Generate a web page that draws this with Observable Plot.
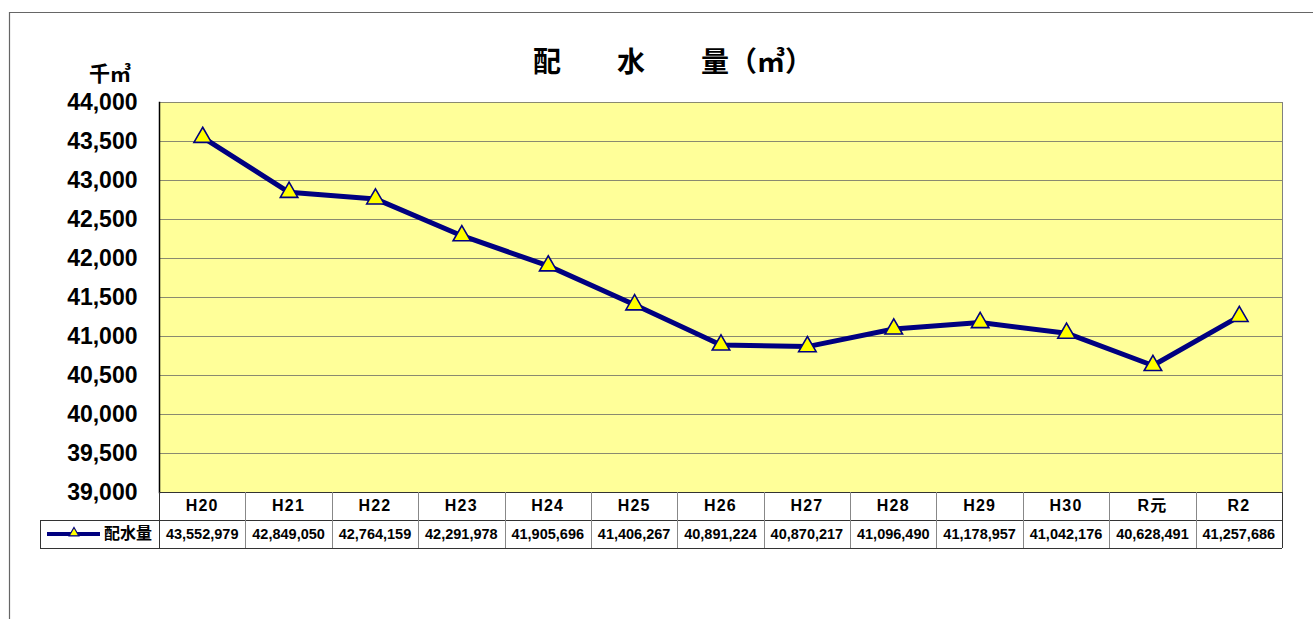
<!DOCTYPE html>
<html>
<head>
<meta charset="utf-8">
<script src="https://cdn.jsdelivr.net/npm/d3@7"></script>
<script src="https://cdn.jsdelivr.net/npm/@observablehq/plot@0.6"></script>
<style>
  html, body { margin: 0; padding: 0; background: #fff; }
  #chart { position: relative; width: 1313px; height: 619px; }
  svg { display: block; }
</style>
</head>
<body>
<div id="chart"></div>
<script>
// ---- data ----
const categories = ["H20", "H21", "H22", "H23", "H24", "H25", "H26", "H27", "H28", "H29", "H30", "R元", "R2"];
const values = [43552979, 42849050, 42764159, 42291978, 41905696, 41406267, 40891224, 40870217, 41096490, 41178957, 41042176, 40628491, 41257686];
const yTicks = [39000, 39500, 40000, 40500, 41000, 41500, 42000, 42500, 43000, 43500, 44000];
const seriesName = "配水量";
const titleText = "配　　水　　量（㎥）";
const unitText = "千㎥";

const data = categories.map((c, i) => ({cat: c, val: values[i] / 1000, raw: values[i]}));

const FONT = "'Liberation Sans', Arial, 'Noto Sans CJK JP', sans-serif";
const NAVY = "#000080";

const chart = Plot.plot({
  width: 1313,
  height: 619,
  marginLeft: 159,
  marginRight: 31,
  marginTop: 102,
  marginBottom: 127,
  style: {fontFamily: FONT, background: "white", overflow: "visible", color: "black"},
  x: {type: "point", domain: categories, padding: 0.5, round: false, axis: null},
  y: {domain: [39000, 44000], axis: null},
  marks: [
    Plot.frame({fill: "#FFFF99", stroke: "#808080"}),
    Plot.gridY(yTicks, {stroke: "#8a8a70", strokeOpacity: 1, strokeWidth: 1}),
    Plot.frame({anchor: "left", stroke: "black", strokeWidth: 1.5}),
    Plot.axisY(yTicks, {tickSize: 0, tickPadding: 22, fontSize: 23, fontWeight: "bold", label: null, tickFormat: d3.format(",")}),
    Plot.line(data, {x: "cat", y: "val", stroke: NAVY, strokeWidth: 5, strokeLinejoin: "round"}),
    Plot.dot(data, {x: "cat", y: "val", symbol: "triangle", r: 6.5, fill: "#FFFF00", stroke: NAVY, strokeWidth: 1.6})
  ]
});

document.getElementById("chart").appendChild(chart);

// ---- decorations & data table using the chart's own scales ----
const svg = d3.select(chart);
const xs = chart.scale("x");
const ys = chart.scale("y");
const n = categories.length;
const step = (xs.apply(categories[n - 1]) - xs.apply(categories[0])) / (n - 1);
const colLeft = c => xs.apply(c) - step / 2;
const x0 = colLeft(categories[0]);
const xEnd = colLeft(categories[n - 1]) + step;
const yBottom = ys.apply(39000);
const rowH = 28;

const deco = svg.append("g").attr("text-anchor", "start");

// outer chart-area border (top & left)
deco.append("line").attr("x1", 9).attr("x2", 1313).attr("y1", 12.5).attr("y2", 12.5)
  .attr("stroke", "#666").attr("stroke-width", 1.2);
deco.append("line").attr("x1", 9.5).attr("x2", 9.5).attr("y1", 12).attr("y2", 619)
  .attr("stroke", "#666").attr("stroke-width", 1.2);

// title
deco.append("text").attr("x", 673).attr("y", 72)
  .attr("text-anchor", "middle")
  .attr("font-family", "'Noto Sans CJK JP', sans-serif")
  .attr("font-size", 28).attr("font-weight", "bold")
  .text(titleText);

// unit label
deco.append("text").attr("x", 131).attr("y", 81)
  .attr("text-anchor", "end")
  .attr("font-family", "'Noto Sans CJK JP', sans-serif")
  .attr("font-size", 21).attr("font-weight", "bold")
  .text(unitText);

// table
const legendLeft = x0 - 119;
const tbl = svg.append("g").attr("text-anchor", "start");
// horizontal lines
tbl.append("line").attr("x1", x0).attr("x2", xEnd).attr("y1", yBottom + 0.5).attr("y2", yBottom + 0.5).attr("stroke", "#333");
tbl.append("line").attr("x1", legendLeft).attr("x2", xEnd).attr("y1", yBottom + rowH + 0.5).attr("y2", yBottom + rowH + 0.5).attr("stroke", "#333");
tbl.append("line").attr("x1", legendLeft).attr("x2", xEnd).attr("y1", yBottom + 2 * rowH + 0.5).attr("y2", yBottom + 2 * rowH + 0.5).attr("stroke", "#333");
// vertical lines
tbl.append("line").attr("x1", Math.round(legendLeft) + 0.5).attr("x2", Math.round(legendLeft) + 0.5).attr("y1", yBottom + rowH).attr("y2", yBottom + 2 * rowH).attr("stroke", "#333");
const edges = categories.map(colLeft).concat([xEnd]);
edges.forEach((ex, i) => {
  tbl.append("line").attr("x1", Math.round(ex) + 0.5).attr("x2", Math.round(ex) + 0.5)
    .attr("y1", yBottom).attr("y2", yBottom + 2 * rowH)
    .attr("stroke", (i === 0 || i === edges.length - 1) ? "#333" : "#888");
});
// header labels
categories.forEach(c => {
  tbl.append("text").attr("x", xs.apply(c)).attr("y", yBottom + rowH / 2 + 1)
    .attr("text-anchor", "middle").attr("dominant-baseline", "middle")
    .attr("font-family", FONT).attr("font-size", 16).attr("font-weight", "bold")
    .attr("letter-spacing", 1.2)
    .text(c);
});
// values
const fmt = d3.format(",");
data.forEach(d => {
  tbl.append("text").attr("x", xs.apply(d.cat)).attr("y", yBottom + rowH * 1.5 + 1)
    .attr("text-anchor", "middle").attr("dominant-baseline", "middle")
    .attr("font-family", FONT).attr("font-size", 14.5).attr("font-weight", "bold")
    .text(fmt(d.raw));
});
// legend key
const ly = yBottom + rowH * 1.5;
tbl.append("line").attr("x1", legendLeft + 7).attr("x2", legendLeft + 60).attr("y1", ly).attr("y2", ly)
  .attr("stroke", NAVY).attr("stroke-width", 4);
tbl.append("path").attr("d", d3.symbol(d3.symbolTriangle, 40)())
  .attr("transform", `translate(${legendLeft + 34},${ly - 1})`)
  .attr("fill", "#FFFF00").attr("stroke", NAVY).attr("stroke-width", 1.2);
tbl.append("text").attr("x", legendLeft + 64).attr("y", ly + 1)
  .attr("text-anchor", "start")
  .attr("dominant-baseline", "middle")
  .attr("font-family", "'Noto Sans CJK JP', sans-serif").attr("font-size", 16).attr("font-weight", "bold")
  .text(seriesName);
</script>
</body>
</html>
